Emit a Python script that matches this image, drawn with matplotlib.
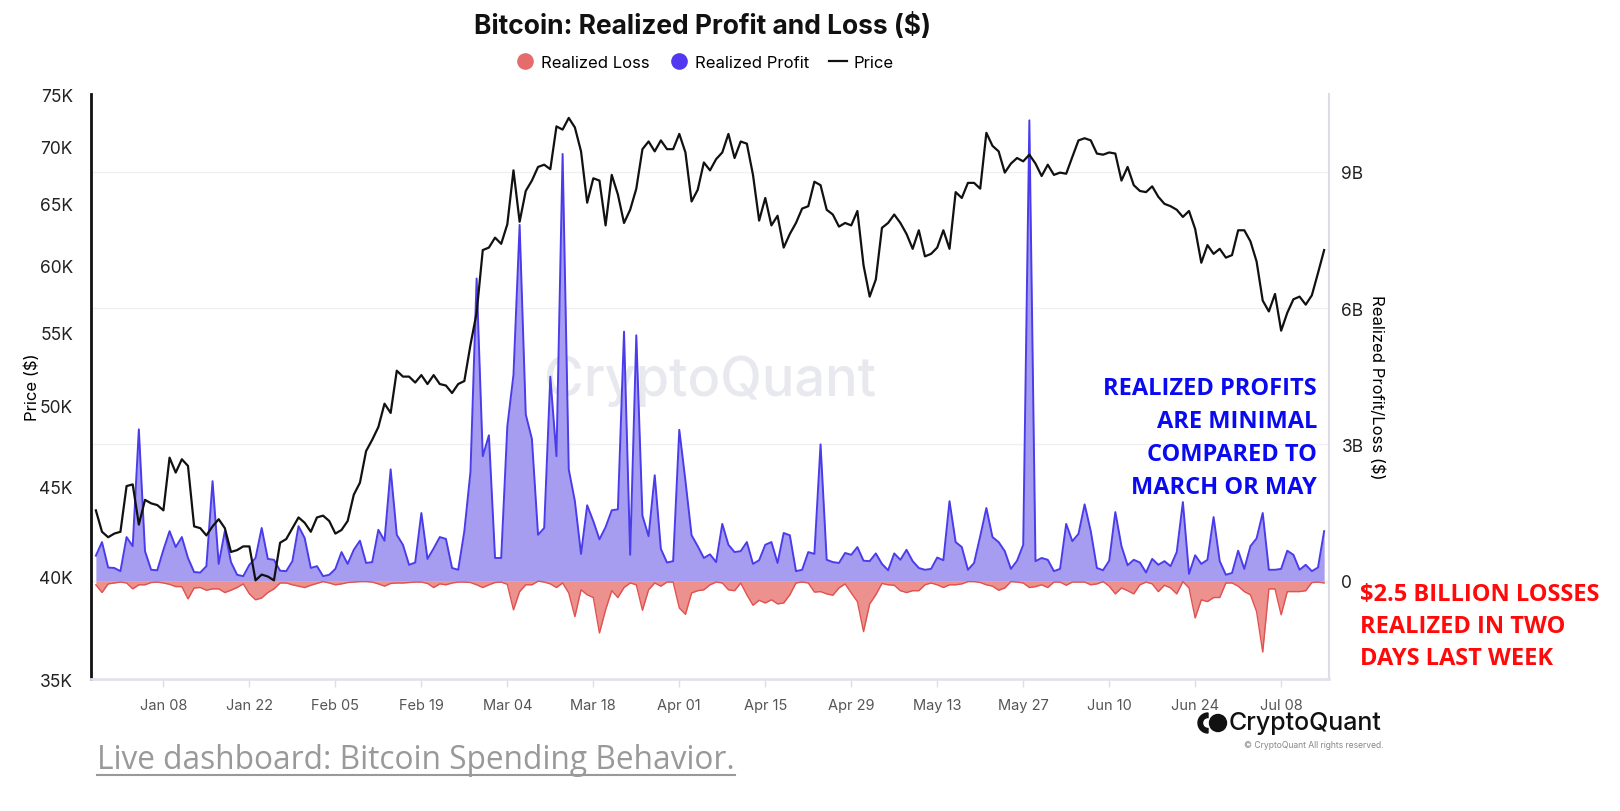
import matplotlib
matplotlib.use("Agg")
import matplotlib.pyplot as plt
import pandas as pd
from matplotlib.lines import Line2D
from matplotlib.patches import Circle, Wedge
from matplotlib.ticker import FixedLocator, FixedFormatter, NullLocator

# daily values, starting 2023-12-28
start_date = "2023-12-28"

# BTC price, thousands of USD
price = [
    43.6, 42.4, 42.1, 42.3, 42.4, 45.0, 45.1, 42.8, 44.2, 44.0,
    43.9, 43.6, 46.7, 45.8, 46.6, 46.2, 42.7, 42.6, 42.2, 42.7,
    43.1, 42.6, 41.3, 41.4, 41.6, 41.6, 39.8, 40.1, 40.0, 39.8,
    41.8, 42.0, 42.6, 43.2, 42.9, 42.4, 43.2, 43.3, 43.0, 42.3,
    42.5, 43.0, 44.5, 45.2, 47.1, 47.8, 48.6, 50.1, 49.5, 52.3,
    51.9, 51.9, 51.5, 52.0, 51.4, 52.0, 51.4, 51.3, 50.8, 51.4,
    51.6, 54.1, 56.4, 61.2, 61.4, 62.2, 61.7, 63.3, 67.9, 63.5,
    66.1, 67.0, 68.2, 68.4, 68.0, 71.9, 71.6, 72.7, 71.8, 69.6,
    65.1, 67.2, 67.0, 63.2, 67.5, 65.8, 63.4, 64.5, 66.3, 69.8,
    70.5, 69.6, 70.6, 69.8, 69.8, 71.2, 69.5, 65.2, 66.2, 68.6,
    67.9, 68.9, 69.5, 71.2, 69.0, 70.5, 70.3, 67.5, 63.6, 65.5,
    63.2, 64.0, 61.4, 62.5, 63.4, 64.6, 64.8, 66.9, 66.6, 64.5,
    64.1, 63.1, 63.4, 63.2, 64.4, 60.0, 57.6, 58.9, 63.0, 63.4,
    64.1, 63.4, 62.5, 61.3, 62.8, 60.7, 60.9, 61.4, 62.8, 61.3,
    66.0, 65.5, 66.8, 66.8, 66.3, 71.3, 70.1, 69.6, 67.7, 68.5,
    69.0, 68.7, 69.3, 68.5, 67.4, 68.4, 67.5, 67.7, 67.6, 69.1,
    70.6, 70.8, 70.6, 69.4, 69.3, 69.5, 69.4, 67.0, 68.2, 66.6,
    66.1, 66.0, 66.5, 65.6, 65.0, 64.8, 64.5, 63.9, 64.4, 62.9,
    60.2, 61.6, 60.9, 61.3, 60.6, 60.8, 62.8, 62.8, 61.9, 60.3,
    57.3, 56.5, 57.8, 55.1, 56.4, 57.4, 57.6, 57.0, 57.7, 59.4,
    61.2,
]

# realized profit, billions of USD
realized_profit = [
    0.55, 0.85, 0.29, 0.28, 0.21, 0.96, 0.76, 3.33, 0.65, 0.24,
    0.23, 0.68, 1.09, 0.74, 0.96, 0.50, 0.19, 0.18, 0.32, 2.19,
    0.37, 1.09, 0.41, 0.13, 0.10, 0.35, 0.50, 1.16, 0.48, 0.46,
    0.22, 0.21, 0.43, 1.20, 0.94, 0.28, 0.32, 0.10, 0.13, 0.26,
    0.63, 0.37, 0.68, 0.88, 0.39, 0.41, 1.12, 0.88, 2.45, 1.01,
    0.79, 0.35, 0.40, 1.49, 0.48, 0.71, 0.96, 0.92, 0.28, 0.24,
    1.09, 2.40, 6.65, 2.74, 3.20, 0.50, 0.50, 3.40, 4.53, 7.83,
    3.66, 3.12, 1.01, 1.16, 4.49, 2.74, 9.39, 2.45, 1.75, 0.59,
    1.66, 1.31, 0.91, 1.18, 1.55, 1.57, 5.48, 0.57, 5.40, 1.43,
    0.98, 2.32, 0.70, 0.40, 0.43, 3.32, 2.20, 1.00, 0.76, 0.50,
    0.58, 0.41, 1.25, 0.79, 0.63, 0.65, 0.85, 0.37, 0.45, 0.79,
    0.85, 0.39, 1.05, 1.00, 0.21, 0.24, 0.63, 0.59, 3.00, 0.46,
    0.41, 0.39, 0.61, 0.57, 0.74, 0.44, 0.43, 0.60, 0.37, 0.23,
    0.60, 0.46, 0.68, 0.43, 0.28, 0.24, 0.26, 0.51, 0.45, 1.75,
    0.85, 0.74, 0.24, 0.39, 0.98, 1.60, 0.96, 0.85, 0.65, 0.26,
    0.44, 0.79, 10.13, 0.43, 0.50, 0.46, 0.21, 0.26, 1.25, 0.87,
    1.03, 1.68, 1.09, 0.28, 0.23, 0.44, 1.51, 0.76, 0.34, 0.46,
    0.40, 0.18, 0.48, 0.35, 0.43, 0.32, 0.63, 1.73, 0.15, 0.56,
    0.37, 0.46, 1.40, 0.43, 0.13, 0.17, 0.66, 0.26, 0.76, 0.93,
    1.49, 0.24, 0.24, 0.26, 0.66, 0.57, 0.24, 0.35, 0.21, 0.29,
    1.09,
]

# realized loss, billions of USD (negative)
realized_loss = [
    -0.09, -0.26, -0.07, -0.05, -0.03, -0.05, -0.18, -0.09, -0.09, -0.04,
    -0.03, -0.05, -0.08, -0.13, -0.13, -0.40, -0.16, -0.15, -0.21, -0.18,
    -0.18, -0.26, -0.21, -0.15, -0.07, -0.29, -0.42, -0.38, -0.26, -0.18,
    -0.05, -0.05, -0.09, -0.12, -0.15, -0.10, -0.06, -0.02, -0.05, -0.09,
    -0.07, -0.04, -0.03, -0.02, -0.02, -0.03, -0.07, -0.12, -0.06, -0.05,
    -0.05, -0.04, -0.03, -0.03, -0.06, -0.15, -0.07, -0.09, -0.05, -0.03,
    -0.03, -0.04, -0.09, -0.15, -0.09, -0.04, -0.03, -0.08, -0.64, -0.24,
    -0.09, -0.09, -0.01, -0.03, -0.07, -0.15, -0.05, -0.27, -0.79, -0.20,
    -0.31, -0.37, -1.15, -0.64, -0.22, -0.37, -0.15, -0.05, -0.09, -0.65,
    -0.20, -0.05, -0.12, -0.03, -0.03, -0.60, -0.74, -0.27, -0.22, -0.20,
    -0.09, -0.03, -0.05, -0.20, -0.22, -0.05, -0.31, -0.54, -0.43, -0.49,
    -0.42, -0.51, -0.49, -0.31, -0.05, -0.03, -0.05, -0.25, -0.24, -0.29,
    -0.32, -0.16, -0.07, -0.27, -0.46, -1.12, -0.51, -0.31, -0.06, -0.09,
    -0.10, -0.22, -0.26, -0.22, -0.22, -0.09, -0.05, -0.09, -0.15, -0.09,
    -0.09, -0.07, -0.02, -0.02, -0.04, -0.09, -0.12, -0.21, -0.16, -0.02,
    -0.03, -0.05, -0.15, -0.13, -0.09, -0.15, -0.03, -0.03, -0.10, -0.03,
    -0.03, -0.03, -0.09, -0.07, -0.02, -0.12, -0.29, -0.16, -0.22, -0.29,
    -0.09, -0.03, -0.07, -0.24, -0.10, -0.16, -0.29, -0.02, -0.16, -0.82,
    -0.42, -0.46, -0.37, -0.37, -0.05, -0.05, -0.12, -0.24, -0.31, -0.68,
    -1.57, -0.18, -0.18, -0.75, -0.24, -0.24, -0.24, -0.22, -0.04, -0.03,
    -0.05,
]

price_ticks = [35, 40, 45, 50, 55, 60, 65, 70, 75]
pnl_ticks = [0, 3, 6, 9]
date_ticks = [
    "2024-01-08", "2024-01-22", "2024-02-05", "2024-02-19", "2024-03-04",
    "2024-03-18", "2024-04-01", "2024-04-15", "2024-04-29", "2024-05-13",
    "2024-05-27", "2024-06-10", "2024-06-24", "2024-07-08",
]

profit_note = ["REALIZED PROFITS", "ARE MINIMAL", "COMPARED TO", "MARCH OR MAY"]
loss_note = ["$2.5 BILLION LOSSES", "REALIZED IN TWO", "DAYS LAST WEEK"]

plt.rcParams["font.family"] = ["Inter", "DejaVu Sans"]

dates = pd.date_range(start_date, periods=len(price), freq="D")
tick_dates = pd.to_datetime(date_ticks)

W, H = 1620, 812
fig = plt.figure(figsize=(W / 100, H / 100), dpi=100, facecolor="white")

ax_price = fig.add_axes([91 / W, 1 - 680 / H, (1329 - 91) / W, (680 - 95) / H])
ax_pnl = ax_price.twinx()
ax_price.set_zorder(ax_pnl.get_zorder() + 1)
ax_price.patch.set_visible(False)

# profit / loss on the right axis
ax_pnl.fill_between(dates, 0, realized_profit, color="#a69df1", lw=0, zorder=2)
ax_pnl.plot(dates, realized_profit, color="#4b3ceb", lw=1.4, zorder=3)
ax_pnl.fill_between(dates, 0, realized_loss, color="#ec918e", lw=0, zorder=2)
ax_pnl.plot(dates, realized_loss, color="#e0524f", lw=1.0, zorder=3)
ax_pnl.set_ylim(-2.163, 10.71)
ax_pnl.yaxis.set_major_locator(FixedLocator(pnl_ticks))
ax_pnl.yaxis.set_major_formatter(FixedFormatter(["0" if v == 0 else f"{v}B" for v in pnl_ticks]))
ax_pnl.tick_params(axis="y", length=0, pad=9, labelsize=12.5, labelcolor="#222222")
ax_pnl.yaxis.grid(True, color="#f0f0f4", lw=1)
ax_pnl.set_axisbelow(True)
for side in ["top", "bottom", "left"]:
    ax_pnl.spines[side].set_visible(False)
ax_pnl.spines["right"].set_color("#dcdde8")
ax_pnl.spines["right"].set_linewidth(1.5)
ax_pnl.set_ylabel("Realized Profit/Loss ($)", fontsize=12, rotation=-90, va="center")
ax_pnl.yaxis.set_label_coords((1377 - 91) / 1238, 0.5)

ax_pnl.text(0.5, 0.51, "CryptoQuant", transform=ax_pnl.transAxes, ha="center", va="center",
            fontsize=39, color="#e8e8ef", fontweight="medium", zorder=1)

# price on the left log axis
ax_price.plot(dates, price, color="#111111", lw=1.6)
ax_price.set_yscale("log")
ax_price.set_ylim(35, 75)
ax_price.yaxis.set_major_locator(FixedLocator(price_ticks))
ax_price.yaxis.set_major_formatter(FixedFormatter([f"{v}K" for v in price_ticks]))
ax_price.yaxis.set_minor_locator(NullLocator())
ax_price.tick_params(axis="y", length=0, pad=13, labelsize=12.5, labelcolor="#222222")
ax_price.set_ylabel("Price ($)", fontsize=12)
ax_price.yaxis.set_label_coords((40 - 91) / 1238, 0.5)

ax_price.set_xlim(dates[0] - pd.Timedelta(hours=19), dates[-1] + pd.Timedelta(hours=19))
ax_price.set_xticks(tick_dates)
ax_price.set_xticklabels([d.strftime("%b %d") for d in tick_dates])
ax_price.tick_params(axis="x", length=6, width=1, color="#dcdde6", pad=8,
                     labelsize=10.5, labelcolor="#555555")
ax_price.spines["top"].set_visible(False)
ax_price.spines["right"].set_visible(False)
ax_price.spines["left"].set_color("#111111")
ax_price.spines["left"].set_linewidth(2)
ax_price.spines["bottom"].set_color("#e1e2ec")
ax_price.spines["bottom"].set_linewidth(2)

# title and legend
fig.text(703 / W, 1 - 26 / H, "Bitcoin: Realized Profit and Loss ($)", ha="center", va="center",
         fontsize=19, fontweight="bold", color="#111111")
handles = [
    Line2D([], [], marker="o", ls="none", ms=12, mfc="#e46c6a", mec="none", label="Realized Loss"),
    Line2D([], [], marker="o", ls="none", ms=12, mfc="#5238ee", mec="none", label="Realized Profit"),
    Line2D([], [], color="#111111", lw=1.6, label="Price"),
]
fig.legend(handles=handles, loc="center", bbox_to_anchor=(705 / W, 1 - 63 / H), ncol=3,
           frameon=False, fontsize=12, handlelength=1.1, handletextpad=0.4, columnspacing=1.2)

# annotations
for k, line in enumerate(profit_note):
    fig.text(1317 / W, 1 - (389.5 + 33 * k) / H, line, ha="right", va="center",
             family=["Open Sans", "DejaVu Sans"], fontweight="bold", fontsize=17, color="#0a0af0")
for k, line in enumerate(loss_note):
    fig.text(1360 / W, 1 - (595 + 32 * k) / H, line, ha="left", va="center",
             family=["Open Sans", "DejaVu Sans"], fontweight="bold", fontsize=17, color="#ff0a0a")

# footer
link = fig.text(97 / W, 1 - 761 / H, "Live dashboard: Bitcoin Spending Behavior.", ha="left",
                va="center", family=["Open Sans", "DejaVu Sans"], fontsize=22.8, color="#999999")
fig.canvas.draw()
bb = link.get_window_extent()
fig.add_artist(Line2D([bb.x0 / W, bb.x1 / W], [1 - 776 / H, 1 - 776 / H],
                      transform=fig.transFigure, color="#999999", lw=1.5))

fig.text(1229 / W, 1 - 724 / H, "CryptoQuant", ha="left", va="center", fontsize=18,
         fontweight="medium", color="#111111")
fig.text(1384 / W, 1 - 746 / H, "\u00a9 CryptoQuant All rights reserved.", ha="right",
         va="center", fontsize=6.2, color="#888888")
fig.add_artist(Wedge((12.08, 0.88), 0.10, 90, 270, width=0.045, color="#111111",
                     transform=fig.dpi_scale_trans))
fig.add_artist(Circle((12.18, 0.88), 0.085, color="#111111", transform=fig.dpi_scale_trans))

fig.savefig("out.png", dpi=100, facecolor="white")
